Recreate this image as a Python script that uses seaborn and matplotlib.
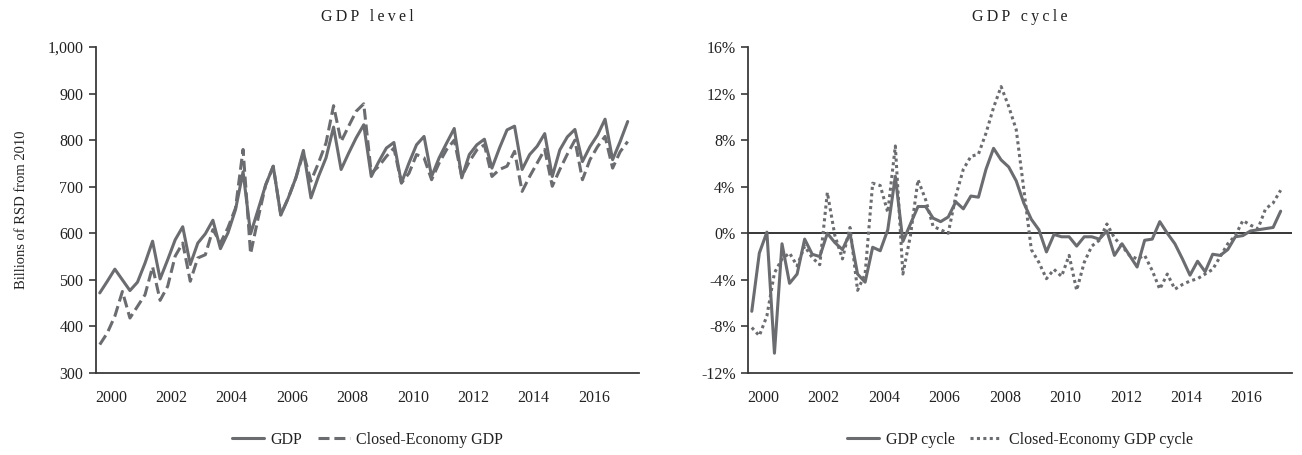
import numpy as np
import pandas as pd
import matplotlib
matplotlib.use("Agg")
import matplotlib.pyplot as plt
import seaborn as sns
from matplotlib.ticker import FuncFormatter, FixedLocator

# Quarterly series, 2000Q1 .. 2017Q3
start_year = 2000
n_quarters = 71

gdp_level = [
    472, 497, 523, 500, 477, 495, 536, 583, 502, 543, 586, 614,
    533, 579, 599, 628, 567, 601, 651, 732, 599, 651, 704, 744,
    639, 676, 719, 778, 676, 722, 762, 828, 737, 772, 805, 833,
    722, 754, 783, 795, 708, 751, 790, 808, 722, 762, 794, 825,
    719, 769, 790, 802, 740, 783, 822, 830, 737, 769, 787, 814,
    722, 779, 807, 823, 754, 786, 811, 845, 758, 797, 840,
]
closed_level = [
    361, 386, 422, 475, 418, 443, 468, 528, 456, 486, 551, 579,
    497, 547, 554, 608, 579, 612, 654, 780, 556, 633, 704, 744,
    640, 676, 719, 772, 712, 751, 794, 874, 797, 830, 862, 878,
    729, 744, 765, 783, 708, 729, 769, 762, 715, 751, 780, 800,
    722, 754, 779, 790, 722, 737, 744, 776, 690, 722, 751, 780,
    701, 737, 770, 800, 715, 758, 786, 808, 740, 775, 797,
]
gdp_cycle = [
    -6.7, -1.7, 0.1, -10.3, -0.9, -4.3, -3.5, -0.5, -1.8, -2.0, 0.0, -0.8,
    -1.4, 0.0, -3.5, -4.2, -1.2, -1.5, 0.3, 4.9, -0.7, 0.8, 2.3, 2.3,
    1.3, 1.0, 1.4, 2.7, 2.1, 3.2, 3.1, 5.5, 7.3, 6.3, 5.7, 4.5,
    2.6, 1.2, 0.3, -1.6, -0.1, -0.3, -0.3, -1.1, -0.3, -0.3, -0.5, 0.2,
    -1.9, -0.9, -1.9, -2.9, -0.6, -0.5, 1.0, 0.0, -0.9, -2.2, -3.6, -2.4,
    -3.3, -1.8, -1.9, -1.4, -0.3, -0.2, 0.2, 0.3, 0.4, 0.5, 1.9,
]
closed_cycle = [
    -8.1, -8.8, -7.1, -3.4, -2.2, -1.7, -2.8, -1.1, -2.1, -2.7, 3.5, -0.2,
    -2.2, 0.5, -4.9, -3.5, 4.3, 4.1, 1.8, 7.5, -3.5, -0.2, 4.6, 2.9,
    0.6, 0.3, 0.0, 3.2, 5.5, 6.6, 6.8, 8.6, 10.8, 12.6, 10.9, 8.9,
    3.8, -1.4, -2.5, -3.9, -3.1, -3.7, -1.9, -4.9, -2.5, -1.1, -0.6, 0.8,
    -0.4, -1.1, -1.9, -2.2, -1.9, -3.2, -4.8, -3.5, -4.8, -4.4, -4.1, -3.9,
    -3.5, -3.1, -2.0, -0.9, -0.2, 1.1, 0.7, 0.4, 2.1, 2.6, 3.7,
]
year_labels = ["2000", "2002", "2004", "2006", "2008", "2010", "2012", "2014", "2016"]

# each quarter sits at the middle of its slot on a continuous year axis
t = start_year + (np.arange(n_quarters) + 0.5) / 4.0
level_df = pd.DataFrame({"t": t, "GDP": gdp_level, "Closed-Economy GDP": closed_level})
cycle_df = pd.DataFrame({"t": t, "GDP cycle": gdp_cycle, "Closed-Economy GDP cycle": closed_cycle})

sns.set_theme(style="white")
plt.rcParams["font.family"] = ["Liberation Serif", "DejaVu Serif"]
plt.rcParams["font.size"] = 11.5

LINE = "#6b6c6f"
AXC = "#3a3a3a"
TXT = "#222222"
LW = 2.2


def spaced(s):
    # letter-spaced title text using thin spaces
    return "\u2009".join(s)


fig = plt.figure(figsize=(13.02, 4.55), dpi=100)
ax1 = fig.add_axes([96 / 1302, 82 / 455, 543 / 1302, 326 / 455])
ax2 = fig.add_axes([748 / 1302, 82 / 455, 544 / 1302, 326 / 455])

sns.lineplot(data=level_df, x="t", y="GDP", ax=ax1, color=LINE, lw=LW, label="GDP")
sns.lineplot(data=level_df, x="t", y="Closed-Economy GDP", ax=ax1, color=LINE, lw=LW,
             dashes=(3.6, 1.6), label="Closed-Economy GDP")

ax2.axhline(0, color="black", lw=1.1, zorder=1)
sns.lineplot(data=cycle_df, x="t", y="GDP cycle", ax=ax2, color=LINE, lw=LW, label="GDP cycle")
sns.lineplot(data=cycle_df, x="t", y="Closed-Economy GDP cycle", ax=ax2, color=LINE, lw=LW,
             dashes=(1.0, 1.1), label="Closed-Economy GDP cycle")

ax1.set_ylim(300, 1000)
ax1.set_yticks(range(300, 1001, 100))
ax1.yaxis.set_major_formatter(FuncFormatter(lambda v, p: f"{int(v):,}"))
ax1.set_ylabel("Billions of RSD from 2010", fontsize=10.5, labelpad=14, color=TXT)

ax2.set_ylim(-12, 16)
ax2.set_yticks(range(-12, 17, 4))
ax2.yaxis.set_major_formatter(FuncFormatter(lambda v, p: f"{int(v)}%"))
ax2.set_ylabel("")

label_pos = [int(y) + 0.5 for y in year_labels]
for ax, title in ((ax1, "GDP level"), (ax2, "GDP cycle")):
    ax.set_xlim(2000, 2018)
    ax.set_xlabel("")
    ax.xaxis.set_major_locator(FixedLocator(range(2000, 2019)))
    ax.xaxis.set_minor_locator(FixedLocator(label_pos))
    ax.set_xticklabels([], minor=False)
    ax.set_xticklabels(year_labels, minor=True)
    ax.tick_params(axis="x", which="major", direction="out", length=5, width=1.2, color=AXC)
    ax.tick_params(axis="x", which="minor", length=0, pad=12, labelsize=11.5, labelcolor=TXT)
    ax.tick_params(axis="y", direction="out", length=5, width=1.2, color=AXC, pad=4,
                   labelsize=11.5, labelcolor=TXT, left=True)
    for side in ("top", "right"):
        ax.spines[side].set_visible(False)
    for side in ("left", "bottom"):
        ax.spines[side].set_color(AXC)
        ax.spines[side].set_linewidth(1.3)
    ax.set_title(spaced(title), fontsize=11.5, pad=19, color=TXT)
    ax.grid(False)
    leg = ax.legend(loc="center", bbox_to_anchor=(0.5, -0.205), ncol=2, frameon=False,
                    fontsize=11.5, handlelength=2.0, columnspacing=1.0, handletextpad=0.4,
                    borderaxespad=0)
    for txt in leg.get_texts():
        txt.set_color(TXT)

fig.savefig("out.png", dpi=100)
